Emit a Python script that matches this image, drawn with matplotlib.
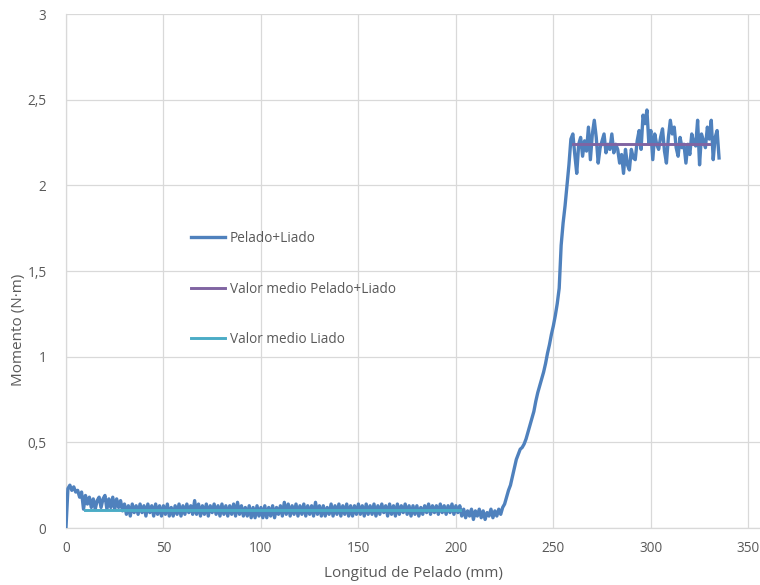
import numpy as np
import matplotlib
matplotlib.use('Agg')
import matplotlib.pyplot as plt
from matplotlib.ticker import FuncFormatter

# Data (momento vs longitud, 1 mm steps)
momento_liado = [
    0.00, 0.23, 0.25, 0.22, 0.24, 0.21, 0.22, 0.18, 0.21, 0.11,
    0.19, 0.14, 0.18, 0.12, 0.17, 0.11, 0.16, 0.18, 0.12, 0.17,
    0.19, 0.11, 0.17, 0.12, 0.18, 0.11, 0.17, 0.12, 0.16, 0.10,
    0.14, 0.08, 0.13, 0.07, 0.14, 0.09, 0.13, 0.08, 0.14, 0.09,
    0.13, 0.07, 0.14, 0.09, 0.13, 0.07, 0.14, 0.08, 0.13, 0.07,
    0.13, 0.08, 0.14, 0.07, 0.12, 0.07, 0.13, 0.08, 0.14, 0.07,
    0.13, 0.08, 0.14, 0.09, 0.13, 0.08, 0.16, 0.08, 0.14, 0.07,
    0.13, 0.08, 0.14, 0.07, 0.13, 0.09, 0.14, 0.08, 0.13, 0.07,
    0.14, 0.08, 0.13, 0.07, 0.13, 0.08, 0.14, 0.07, 0.15, 0.08,
    0.13, 0.07, 0.12, 0.07, 0.13, 0.06, 0.12, 0.06, 0.13, 0.07,
    0.12, 0.06, 0.13, 0.06, 0.12, 0.07, 0.13, 0.06, 0.12, 0.08,
    0.13, 0.07, 0.15, 0.08, 0.14, 0.07, 0.13, 0.08, 0.14, 0.07,
    0.13, 0.08, 0.14, 0.07, 0.13, 0.08, 0.13, 0.07, 0.15, 0.08,
    0.13, 0.07, 0.13, 0.07, 0.12, 0.08, 0.14, 0.07, 0.13, 0.08,
    0.14, 0.07, 0.13, 0.08, 0.14, 0.07, 0.13, 0.07, 0.13, 0.08,
    0.14, 0.08, 0.13, 0.07, 0.14, 0.08, 0.13, 0.08, 0.14, 0.07,
    0.13, 0.08, 0.14, 0.09, 0.13, 0.07, 0.14, 0.08, 0.13, 0.07,
    0.14, 0.08, 0.13, 0.09, 0.14, 0.08, 0.13, 0.07, 0.13, 0.08,
    0.13, 0.07, 0.12, 0.08, 0.13, 0.09, 0.14, 0.08, 0.13, 0.09,
    0.13, 0.08, 0.14, 0.09, 0.13, 0.08, 0.13, 0.09, 0.14, 0.08,
    0.13, 0.09, 0.13, 0.07, 0.11, 0.06, 0.10, 0.07, 0.11, 0.05,
    0.10, 0.07, 0.11, 0.06, 0.10, 0.05, 0.09, 0.07, 0.11, 0.06,
    0.10, 0.07, 0.11, 0.08, 0.12,
]
momento_subida = [
    0.14, 0.18, 0.22, 0.25, 0.30, 0.35, 0.40, 0.43, 0.46, 0.47,
    0.49, 0.52, 0.56, 0.60, 0.64, 0.68, 0.74, 0.79, 0.83, 0.87,
    0.91, 0.96, 1.02, 1.07, 1.13, 1.18, 1.24, 1.31, 1.40, 1.65,
    1.78, 1.88, 2.00, 2.12,
]
momento_pelado = [
    2.27, 2.30, 2.18, 2.07, 2.24, 2.28, 2.17, 2.26, 2.20, 2.34,
    2.15, 2.30, 2.38, 2.28, 2.13, 2.22, 2.26, 2.30, 2.19, 2.24,
    2.21, 2.30, 2.19, 2.24, 2.21, 2.13, 2.18, 2.07, 2.21, 2.12,
    2.09, 2.21, 2.16, 2.15, 2.26, 2.32, 2.21, 2.41, 2.36, 2.44,
    2.24, 2.32, 2.15, 2.30, 2.24, 2.21, 2.28, 2.33, 2.20, 2.13,
    2.28, 2.38, 2.30, 2.34, 2.22, 2.17, 2.28, 2.22, 2.24, 2.13,
    2.24, 2.18, 2.30, 2.25, 2.23, 2.38, 2.12, 2.30, 2.26, 2.22,
    2.34, 2.27, 2.38, 2.15, 2.28, 2.32, 2.16,
]

# mean values (start, end in mm and level)
medio_pl_x = [260, 330]
medio_pl_y = [2.24, 2.24]
medio_l_x = [10, 202]
medio_l_y = [0.105, 0.105]

momento = np.array(momento_liado + momento_subida + momento_pelado)
longitud = np.arange(len(momento), dtype=float)

plt.rcParams['font.family'] = ['Open Sans', 'DejaVu Sans']
gris = '#595959'

fig = plt.figure(figsize=(7.6, 5.85), dpi=100)
ax = fig.add_axes([0.0868, 0.0974, 0.9132, 0.8786])

ax.plot(longitud, momento, color='#4F81BD', lw=2.4, label='Pelado+Liado', zorder=3)
ax.plot(medio_pl_x, medio_pl_y, color='#8064A2', lw=2.1,
        label='Valor medio Pelado+Liado', zorder=4)
ax.plot(medio_l_x, medio_l_y, color='#4BACC6', lw=2.1,
        label='Valor medio Liado', zorder=4)

# Axes
ax.set_xlim(0, 356)
ax.set_ylim(0, 3)
ax.set_xticks(np.arange(0, 351, 50))
ax.set_yticks(np.arange(0, 3.01, 0.5))
ax.yaxis.set_major_formatter(FuncFormatter(lambda v, p: ('%g' % v).replace('.', ',')))
ax.grid(True, color='#D9D9D9', lw=0.9)
ax.set_axisbelow(True)
for s in ['top', 'right']:
    ax.spines[s].set_visible(False)
for s in ['left', 'bottom']:
    ax.spines[s].set_color('#D9D9D9')
    ax.spines[s].set_linewidth(0.9)
ax.tick_params(length=0, labelsize=9.8, labelcolor=gris)
ax.tick_params(axis='x', pad=9)
ax.tick_params(axis='y', pad=14)

ax.set_xlabel('Longitud de Pelado (mm)', fontsize=11, color=gris)
ax.xaxis.set_label_coords(0.5, -0.074)
ax.set_ylabel('Momento (N·m)', fontsize=11, color=gris)
ax.yaxis.set_label_coords(-0.057, 0.385)

leg = ax.legend(loc='center left', bbox_to_anchor=(0.18, 0.465), frameon=False,
                fontsize=9.8, handlelength=2.5, handletextpad=0.35,
                labelspacing=2.6, borderpad=0, borderaxespad=0)
for t in leg.get_texts():
    t.set_color(gris)

plt.savefig('out.png', dpi=100)
